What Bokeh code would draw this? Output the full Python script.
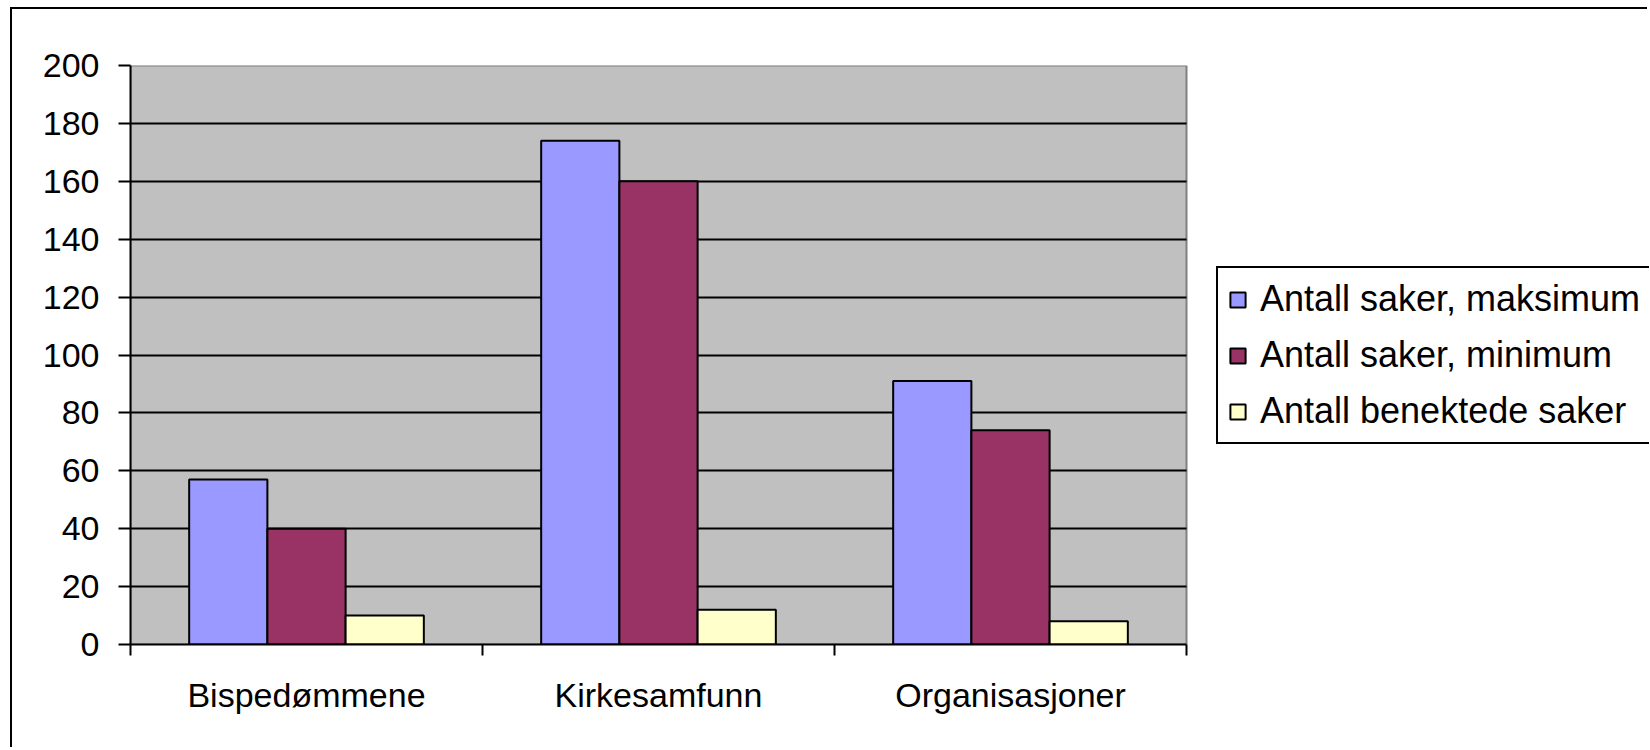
from bokeh.plotting import figure
from bokeh.models import FixedTicker, Legend, LegendItem, ColumnDataSource, Range1d, BoxAnnotation
from bokeh.transform import dodge
from bokeh.embed import file_html
from bokeh.resources import INLINE

# ---- data ----
categories = ["Bispedømmene", "Kirkesamfunn", "Organisasjoner"]
series_names = ["Antall saker, maksimum", "Antall saker, minimum", "Antall benektede saker"]
maksimum = [57, 174, 91]
minimum = [40, 160, 74]
benektede = [10, 12, 8]
y_ticks = [0, 20, 40, 60, 80, 100, 120, 140, 160, 180, 200]
colors = ["#9999FF", "#993366", "#FFFFCC"]

FONT = "Liberation Sans"

n_cat = len(categories)
centers = [i + 0.5 for i in range(n_cat)]
bounds = list(range(n_cat + 1))
src = ColumnDataSource(dict(x=centers, maks=maksimum, mini=minimum, ben=benektede))

# layout: plot area 1056px wide, frame extends to the right edge to host the legend
W, H = 1637, 740
LEFT, TOP, BOTTOM = 118, 56, 105
PLOT_W = 1056
frame_w = W - LEFT
x_end = n_cat * frame_w / PLOT_W

p = figure(width=W, height=H,
           x_range=Range1d(0, x_end), y_range=Range1d(y_ticks[0], y_ticks[-1]),
           min_border_left=LEFT, min_border_top=TOP, min_border_right=0, min_border_bottom=BOTTOM,
           output_backend="svg", toolbar_location=None)
p.styles = {"border-left": "2px solid black", "border-top": "2px solid black",
            "margin-left": "10px", "margin-top": "7px"}

p.background_fill_color = "white"
p.border_fill_color = "white"
p.outline_line_color = None

# gray plot area
area = BoxAnnotation(left=0, right=n_cat, bottom=y_ticks[0], top=y_ticks[-1],
                     fill_color="#C0C0C0", fill_alpha=1.0,
                     line_color="#808080", line_alpha=1.0, line_width=2, level="image")
p.add_layout(area)

bw = 2.0 / 9.0
fields = ["maks", "mini", "ben"]
offsets = [-bw, 0.0, bw]
renderers = []
for f, off, c in zip(fields, offsets, colors):
    r = p.vbar(x=dodge("x", off), top=f, width=bw, bottom=0, source=src,
               fill_color=c, line_color="black", line_width=2)
    renderers.append(r)

# grid
p.xgrid.grid_line_color = None
p.ygrid.ticker = FixedTicker(ticks=y_ticks[1:-1])
p.ygrid.grid_line_color = "black"
p.ygrid.grid_line_width = 2
p.ygrid.cross_bounds = (0, n_cat)

# y axis
ya = p.yaxis[0]
ya.ticker = FixedTicker(ticks=y_ticks, minor_ticks=[])
ya.axis_line_color = "black"
ya.axis_line_width = 2
ya.major_tick_line_color = "black"
ya.major_tick_line_width = 2
ya.major_tick_out = 12
ya.major_tick_in = 0
ya.minor_tick_line_color = None
ya.major_label_text_font = FONT
ya.major_label_text_font_size = "34px"
ya.major_label_text_color = "black"
ya.major_label_standoff = 19

# x axis
xa = p.xaxis[0]
xa.bounds = (0, n_cat)
xa.ticker = FixedTicker(ticks=centers, minor_ticks=bounds)
xa.major_label_overrides = {c: n for c, n in zip(centers, categories)}
xa.axis_line_color = "black"
xa.axis_line_width = 2
xa.major_tick_line_color = None
xa.major_tick_out = 0
xa.major_tick_in = 0
xa.minor_tick_line_color = "black"
xa.minor_tick_line_width = 2
xa.minor_tick_out = 11
xa.minor_tick_in = 0
xa.major_label_text_font = FONT
xa.major_label_text_font_size = "34px"
xa.major_label_text_color = "black"
xa.major_label_standoff = 20

legend = Legend(items=[LegendItem(label=n, renderers=[r]) for n, r in zip(series_names, renderers)],
                location=(1086, 200), orientation="vertical")
legend.label_text_font = FONT
legend.label_text_font_size = "36px"
legend.label_text_color = "black"
legend.glyph_width = 19
legend.glyph_height = 19
legend.label_standoff = 13
legend.label_height = 41
legend.padding = 10
legend.spacing = 14
legend.margin = 0
legend.border_line_color = "black"
legend.border_line_alpha = 1.0
legend.border_line_width = 2
legend.background_fill_color = "white"
legend.background_fill_alpha = 1.0
p.add_layout(legend)

open("out.html", "w").write(file_html(p, INLINE))
